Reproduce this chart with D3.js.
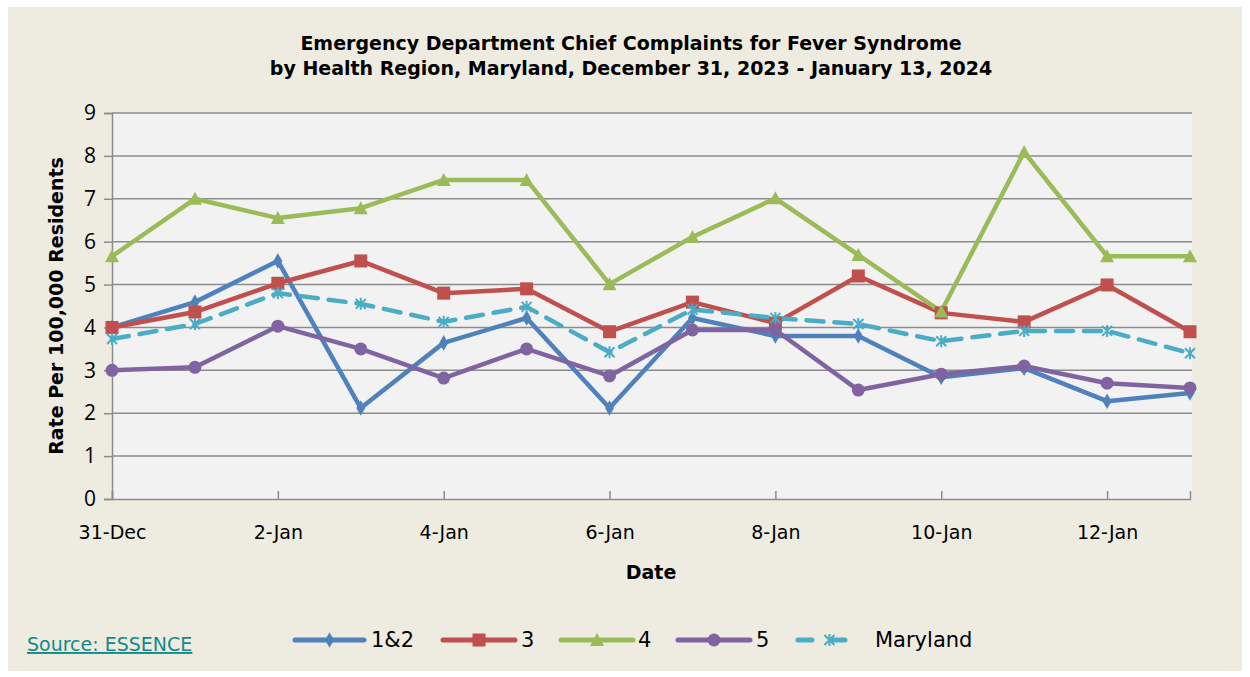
<!DOCTYPE html>
<html>
<head>
<meta charset="utf-8">
<script src="https://cdn.jsdelivr.net/npm/d3@7"></script>
<style>
  body { margin: 0; background: #ffffff; }
  text { font-family: "DejaVu Sans", Verdana, sans-serif; }
</style>
</head>
<body>
<div class="grafico"></div>
<script>
// datos
const fechas = ['31-Dec', '1-Jan', '2-Jan', '3-Jan', '4-Jan', '5-Jan', '6-Jan',
    '7-Jan', '8-Jan', '9-Jan', '10-Jan', '11-Jan', '12-Jan', '13-Jan'];
const region12 = [4.0, 4.59, 5.55, 2.12, 3.64, 4.22, 2.12, 4.22, 3.80, 3.80, 2.84, 3.05, 2.28, 2.47];
const region3 = [4.0, 4.36, 5.03, 5.55, 4.80, 4.90, 3.90, 4.59, 4.10, 5.20, 4.34, 4.13, 4.99, 3.90];
const region4 = [5.66, 7.0, 6.55, 6.78, 7.44, 7.44, 5.01, 6.11, 7.01, 5.69, 4.37, 8.09, 5.66, 5.66];
const region5 = [3.0, 3.07, 4.03, 3.5, 2.82, 3.5, 2.87, 3.94, 3.94, 2.54, 2.91, 3.10, 2.70, 2.59];
const maryland = [3.73, 4.08, 4.8, 4.55, 4.13, 4.48, 3.42, 4.42, 4.22, 4.08, 3.68, 3.92, 3.92, 3.40];
const nombresSeries = ['1&2', '3', '4', '5', 'Maryland'];
const ticksY = [0, 1, 2, 3, 4, 5, 6, 7, 8, 9];
const ticksX = ['31-Dec', '2-Jan', '4-Jan', '6-Jan', '8-Jan', '10-Jan', '12-Jan'];

const ancho = 1250,
    alto = 677;

const series = [
    { name: nombresSeries[0], values: region12, color: '#4F81BD', marker: 'diamond', dash: null },
    { name: nombresSeries[1], values: region3, color: '#C0504D', marker: 'square', dash: null },
    { name: nombresSeries[2], values: region4, color: '#9BBB59', marker: 'triangle', dash: null },
    { name: nombresSeries[3], values: region5, color: '#8064A2', marker: 'circle', dash: null },
    { name: nombresSeries[4], values: maryland, color: '#4BACC6', marker: 'star', dash: '17,11' }
];

const svg = d3.select('.grafico').append('svg')
    .attr('width', ancho)
    .attr('height', alto);

// fondo general
svg.append('rect')
    .attr('x', 8).attr('y', 7)
    .attr('width', 1234).attr('height', 664)
    .attr('fill', '#EEECE1');

const plot = { left: 112, right: 1190, top: 113, bottom: 499 };

const x = d3.scalePoint()
    .domain(fechas)
    .range([plot.left, plot.right]);

const y = d3.scaleLinear()
    .domain([0, 9])
    .range([plot.bottom, plot.top]);

// area del grafico
svg.append('rect')
    .attr('x', plot.left).attr('y', plot.top)
    .attr('width', plot.right - plot.left + 2)
    .attr('height', plot.bottom - plot.top)
    .attr('fill', '#F2F2F2');

// lineas de la grilla
svg.append('g')
    .selectAll('line')
    .data(ticksY.slice(1))
    .enter().append('line')
    .attr('x1', plot.left).attr('x2', plot.right + 2)
    .attr('y1', d => y(d)).attr('y2', d => y(d))
    .attr('stroke', '#8C8C8C')
    .attr('stroke-width', 1.5);

// eje Y
const ejeY = svg.append('g')
    .attr('transform', 'translate(' + plot.left + ',0)')
    .call(d3.axisLeft(y).tickValues(ticksY).tickSize(8).tickPadding(8));
ejeY.select('.domain').attr('stroke', '#8C8C8C').attr('stroke-width', 1.5);
ejeY.selectAll('.tick line').attr('stroke', '#8C8C8C').attr('stroke-width', 1.5);
ejeY.selectAll('.tick text')
    .attr('font-size', 21)
    .attr('fill', '#000')
    .style('font-family', '"Open Sans", sans-serif');

// eje X
const ejeX = svg.append('g')
    .attr('transform', 'translate(0,' + plot.bottom + ')')
    .call(d3.axisBottom(x).tickValues(ticksX).tickSize(-8).tickPadding(27));
ejeX.select('.domain').attr('stroke', '#8C8C8C').attr('stroke-width', 1.5);
ejeX.selectAll('.tick line').attr('stroke', '#8C8C8C').attr('stroke-width', 1.5);
ejeX.selectAll('.tick text')
    .attr('font-size', 19)
    .attr('fill', '#000');

// titulos
svg.append('text')
    .attr('x', 631).attr('y', 50)
    .attr('text-anchor', 'middle')
    .attr('font-size', 19).attr('font-weight', 'bold')
    .text('Emergency Department Chief Complaints for Fever Syndrome');
svg.append('text')
    .attr('x', 631).attr('y', 75)
    .attr('text-anchor', 'middle')
    .attr('font-size', 19).attr('font-weight', 'bold')
    .text('by Health Region, Maryland, December 31, 2023 - January 13, 2024');

svg.append('text')
    .attr('x', 651).attr('y', 579)
    .attr('text-anchor', 'middle')
    .attr('font-size', 19).attr('font-weight', 'bold')
    .text('Date');

svg.append('text')
    .attr('transform', 'translate(63,306) rotate(-90)')
    .attr('text-anchor', 'middle')
    .attr('font-size', 19).attr('font-weight', 'bold')
    .text('Rate Per 100,000 Residents');

// simbolos
function dibujarMarcador(g, tipo, color, cx, cy) {
    if (tipo === 'diamond') {
        g.append('path')
            .attr('d', d3.symbol().type(d3.symbolDiamond).size(70)())
            .attr('transform', 'translate(' + cx + ',' + cy + ')')
            .attr('fill', color);
    } else if (tipo === 'square') {
        g.append('rect')
            .attr('x', cx - 6.5).attr('y', cy - 6.5)
            .attr('width', 13).attr('height', 13)
            .attr('fill', color);
    } else if (tipo === 'triangle') {
        g.append('path')
            .attr('d', 'M' + cx + ',' + (cy - 7) + 'L' + (cx + 7) + ',' + (cy + 6) + 'L' + (cx - 7) + ',' + (cy + 6) + 'Z')
            .attr('fill', color);
    } else if (tipo === 'circle') {
        g.append('circle')
            .attr('cx', cx).attr('cy', cy).attr('r', 6.5)
            .attr('fill', color);
    } else {
        const s = 5;
        g.append('path')
            .attr('d', 'M' + (cx - s) + ',' + (cy - s) + 'L' + (cx + s) + ',' + (cy + s) +
                'M' + (cx - s) + ',' + (cy + s) + 'L' + (cx + s) + ',' + (cy - s) +
                'M' + cx + ',' + (cy - s - 1) + 'L' + cx + ',' + (cy + s + 1))
            .attr('stroke', color)
            .attr('stroke-width', 2)
            .attr('fill', 'none');
    }
}

// lineas de datos
const linea = d3.line()
    .x((d, i) => x(fechas[i]))
    .y(d => y(d));

const capas = svg.append('g').attr('class', 'data');
series.forEach(s => {
    capas.append('path')
        .attr('d', linea(s.values))
        .attr('fill', 'none')
        .attr('stroke', s.color)
        .attr('stroke-width', 4.5)
        .attr('stroke-linejoin', 'round')
        .attr('stroke-linecap', s.dash ? 'round' : 'butt')
        .attr('stroke-dasharray', s.dash);
});
series.forEach(s => {
    const g = capas.append('g');
    s.values.forEach((v, i) => dibujarMarcador(g, s.marker, s.color, x(fechas[i]), y(v)));
});

// leyenda
const leyendaX = [295, 443, 561, 678, 798];
const leyendaAncho = [69, 72, 72, 72, 63];
const leyendaTexto = [371, 521, 638, 756, 875];
const leyendaY = 640;
series.forEach((s, i) => {
    const g = svg.append('g');
    g.append('line')
        .attr('x1', leyendaX[i]).attr('x2', leyendaX[i] + leyendaAncho[i])
        .attr('y1', leyendaY).attr('y2', leyendaY)
        .attr('stroke', s.color)
        .attr('stroke-width', 5)
        .attr('stroke-linecap', 'round')
        .attr('stroke-dasharray', s.dash ? '14,19' : null);
    dibujarMarcador(g, s.marker, s.color, leyendaX[i] + leyendaAncho[i] / 2, leyendaY);
    g.append('text')
        .attr('x', leyendaTexto[i])
        .attr('y', leyendaY + 7)
        .attr('font-size', 21)
        .text(s.name);
});

// fuente
svg.append('text')
    .attr('x', 27).attr('y', 651)
    .attr('font-size', 19)
    .attr('fill', '#138A8A')
    .attr('text-decoration', 'underline')
    .text('Source: ESSENCE');
</script>
</body>
</html>
